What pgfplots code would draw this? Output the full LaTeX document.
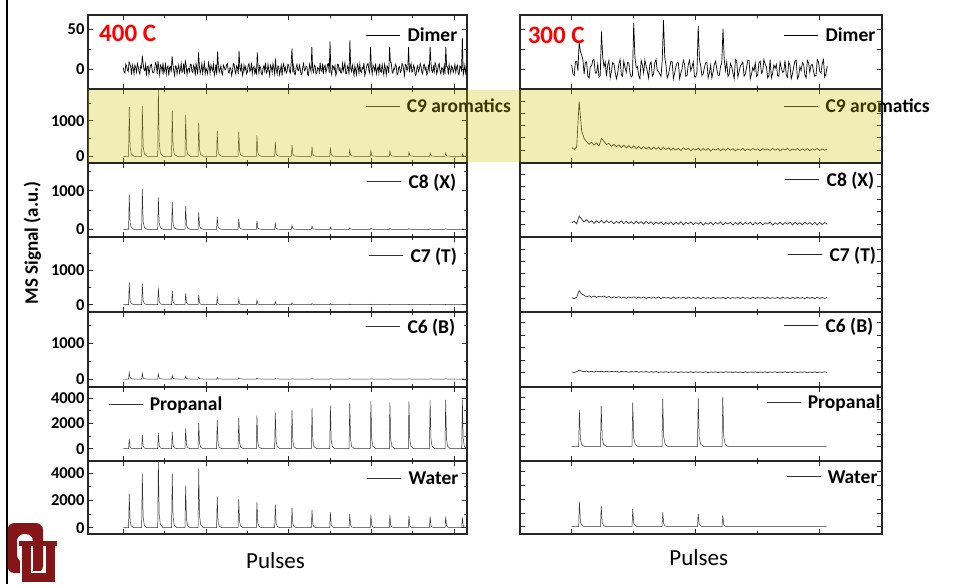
\documentclass[border=0pt]{standalone}
\usepackage{fontspec}
\setmainfont{Carlito}
\usepackage{pgfplots}
\usepackage{pgfplotstable}
\pgfplotsset{compat=1.18}

\definecolor{ou}{HTML}{841617}
\definecolor{hl}{rgb}{0.8,0.754,0}

\pgfplotsset{
  panel/.style={
    scale only axis, clip=true,
    axis line style={line width=1.2pt, black!85},
    every tick/.style={line width=0.9pt, black!85},
    major tick length=5pt, minor tick length=3pt,
    tick align=inside,
    xticklabels={},
    tick label style={font=\fontsize{16.5}{16.5}\selectfont\bfseries},
    /pgf/number format/assume math mode=true,
    /pgf/number format/1000 sep={},
    legend style={draw=none, fill=none, anchor=west, inner sep=0pt,
      font=\fontsize{19.5}{19.5}\selectfont\bfseries,
      nodes={inner sep=0pt, text depth=0pt}, column sep=7pt},
    legend image code/.code={\draw[##1, line width=0.5pt] (0pt,0pt) -- (34pt,0pt);},
  },
  L/.style={panel, width=379pt, xmin=-213.4, xmax=2078,
    xtick={0,500,1000,1500,2000}, minor xtick={250,750,1250,1750}},
  R/.style={panel, width=362pt, xmin=-208.5, xmax=1251,
    xtick={0,500,1000}, minor xtick={250,750}, yticklabels={}},
  tr/.style={black!80, line width=0.5pt},
  trn/.style={black!85, line width=0.65pt},
}

\pgfplotstableread{
x c9 c8 c7 c6 pr wa
0 0 0 0 0 0 0
32 0 0 0 0 0 0
36 1387 900 650 183 737 2494
41 277 180 130 37 147 499
48 69 45 33 9 37 125
64 0 0 0 0 0 0
111 0 0 0 0 0 0
115 1425 1043 612 163 1079 3975
120 285 209 122 33 216 795
127 71 52 31 8 54 199
143 0 0 0 0 0 0
208 0 0 0 0 0 0
212 1950 828 495 144 1237 4950
217 390 166 99 29 247 990
224 98 41 25 7 62 248
240 0 0 0 0 0 0
292 0 0 0 0 0 0
296 1292 707 398 96 1342 3975
301 258 141 80 19 268 795
308 65 35 20 5 67 199
324 0 0 0 0 0 0
373 0 0 0 0 0 0
377 1170 603 330 77 1605 3086
382 234 121 66 15 321 617
389 59 30 17 4 80 154
405 0 0 0 0 0 0
452 0 0 0 0 0 0
456 943 440 282 58 2053 4321
461 189 88 56 12 411 864
468 47 22 14 3 103 216
484 0 0 0 0 0 0
564 0 0 0 0 0 0
568 717 328 214 38 2263 2247
573 143 66 43 8 453 449
580 36 16 11 2 113 112
596 0 0 0 0 0 0
694 0 0 0 0 0 0
698 689 267 165 29 2447 2074
703 138 53 33 6 489 415
710 34 13 8 1 122 104
726 0 0 0 0 0 0
804 0 0 0 0 0 0
808 594 224 136 20 2632 1901
813 119 45 27 4 526 380
820 30 11 7 1 132 95
836 0 0 0 0 0 0
915 0 0 0 0 0 0
919 406 155 78 15 2868 1704
924 81 31 16 3 574 341
931 20 8 4 1 143 85
947 0 0 0 0 0 0
1016 0 0 0 0 0 0
1020 311 103 58 10 3053 1457
1025 62 21 12 2 611 291
1032 16 5 3 0 153 73
1048 0 0 0 0 0 0
1137 0 0 0 0 0 0
1141 274 78 39 10 3211 1309
1146 55 16 8 2 642 262
1153 14 4 2 0 161 65
1169 0 0 0 0 0 0
1248 0 0 0 0 0 0
1252 217 52 29 8 3421 1136
1257 43 10 6 2 684 227
1264 11 3 1 0 171 57
1280 0 0 0 0 0 0
1365 0 0 0 0 0 0
1369 179 35 19 8 3605 1012
1374 36 7 4 2 721 202
1381 9 2 1 0 180 51
1397 0 0 0 0 0 0
1493 0 0 0 0 0 0
1497 151 30 15 6 3789 963
1502 30 6 3 1 758 193
1509 8 2 1 0 189 48
1525 0 0 0 0 0 0
1608 0 0 0 0 0 0
1612 151 25 12 6 3684 938
1617 30 5 2 1 737 188
1624 8 1 1 0 184 47
1640 0 0 0 0 0 0
1723 0 0 0 0 0 0
1727 113 20 10 5 3763 864
1732 23 4 2 1 753 173
1739 6 1 0 0 188 43
1755 0 0 0 0 0 0
1851 0 0 0 0 0 0
1855 94 15 10 5 3868 840
1860 19 3 2 1 774 168
1867 5 1 0 0 193 42
1883 0 0 0 0 0 0
1945 0 0 0 0 0 0
1949 94 15 8 5 3868 815
1954 19 3 2 1 774 163
1961 5 1 0 0 193 41
1977 0 0 0 0 0 0
2046 0 0 0 0 0 0
2050 66 10 8 5 3895 765
2055 13 2 2 1 779 153
2062 3 1 0 0 195 38
2078 0 0 0 0 0 0
2085 0 0 0 0 0 0
}\Ltab

\pgfplotstableread{
x c9 c8 c7 c6
0 20 12 8 6
10 5 25 0 2
20 25 5 12 9
30 400 66 65 20
40 160 42 38 14
50 95 20 28 8
60 70 38 15 14
70 48 15 24 6
80 66 30 12 12
90 40 8 22 5
100 58 28 10 13
110 35 12 20 7
120 95 32 14 12
130 72 10 22 6
140 45 30 9 13
150 55 14 18 5
160 30 26 6 11
170 48 5 16 7
180 28 24 8 12
190 42 9 17 4
200 22 28 5 11
210 40 6 15 6
220 18 25 4 10
230 36 8 14 3
240 15 22 6 10
250 34 4 16 6
260 12 26 3 11
270 30 7 14 4
280 10 22 5 9
290 28 3 15 5
300 8 24 2 10
310 25 6 12 3
320 5 21 4 9
330 24 -2 13 4
340 6 18 3 10
350 22 4 14 2
360 2 20 1 8
370 20 -3 12 3
380 4 16 5 9
390 18 2 11 2
400 -2 20 0 8
410 16 -4 13 3
420 0 18 2 9
430 14 0 11 1
440 -4 22 4 8
450 18 -5 12 3
460 2 16 1 7
470 15 3 13 2
480 -6 20 3 9
490 12 -3 10 1
500 0 15 2 8
510 16 2 12 3
520 -5 19 0 7
530 12 -6 11 2
540 -2 14 3 8
550 14 1 10 1
560 -8 18 1 7
570 10 -4 12 3
580 0 16 2 8
590 13 2 9 1
600 -6 20 4 7
610 11 -5 11 2
620 -3 14 0 8
630 15 3 12 3
640 -1 17 2 7
650 12 -6 10 0
660 -7 15 4 8
670 10 0 11 2
680 -2 19 1 7
690 14 -3 12 1
700 -5 16 3 8
710 9 2 9 2
720 -3 18 0 7
730 13 -5 13 3
740 0 15 2 8
750 11 1 10 0
760 -6 17 4 7
770 12 -4 11 2
780 -1 14 1 8
790 10 3 12 1
800 -4 20 2 7
810 15 -6 9 3
820 -2 13 3 8
830 12 0 11 1
840 -7 18 0 7
850 11 -3 12 2
860 0 15 3 8
870 14 2 10 0
880 -5 19 1 7
890 9 -5 12 2
900 -1 16 2 8
910 13 0 11 1
920 -4 14 4 7
930 10 -4 10 3
940 -3 18 1 8
950 12 1 12 0
960 -6 15 3 7
970 11 -2 11 2
980 0 17 0 8
990 13 -5 12 1
1000 -4 16 2 7
1010 10 -1 10 3
1020 -2 14 3 8
1030 9 2 11 1
}\Rtab

\begin{document}
\begin{tikzpicture}[x=1pt,y=1pt]
\path[use as bounding box] (0,0) rectangle (959,-584);

% ================= LEFT (400 C) =================
\begin{axis}[L, at={(88pt,-15pt)}, anchor=north west, height=74pt,
  ymin=-25, ymax=68, ytick={0,50}, minor ytick={-25,25},
  legend style={at={(0.733,0.73)}}]
\addplot[black, line width=0.7pt] coordinates {
(0,2)(5,-4)(10,-5)(15,6)(20,4)(25,-1)(30,-3)(35,9)(40,6)(45,3)(50,-7)(55,5)(60,1)(65,-6)(70,5)(75,2)(80,-4)(85,7)(90,3)(95,-3)
(100,-6)(105,4)(110,2)(115,17)(120,7)(125,-1)(130,-2)(135,6)(140,-8)(145,3)(150,4)(155,-7)(160,0)(165,5)(170,6)(175,-2)(180,-5)(185,-4)(190,1)(195,8)
(200,5)(205,-6)(210,10)(215,1)(220,-7)(225,5)(230,3)(235,-3)(240,8)(245,-5)(250,-1)(255,6)(260,-6)(265,2)(270,4)(275,-8)(280,2)(285,3)(290,-4)(295,16)
(300,6)(305,-2)(310,-8)(315,4)(320,3)(325,-6)(330,1)(335,5)(340,-5)(345,-1)(350,7)(355,-4)(360,-2)(365,7)(370,-6)(375,10)(380,5)(385,-7)(390,0)(395,1)
(400,-3)(405,6)(410,6)(415,-3)(420,-4)(425,5)(430,2)(435,-8)(440,7)(445,0)(450,-7)(455,21)(460,4)(465,-5)(470,-1)(475,7)(480,-5)(485,2)(490,8)(495,-6)
(500,1)(505,-2)(510,-6)(515,8)(520,3)(525,-5)(530,5)(535,1)(540,-2)(545,6)(550,-8)(555,-3)(560,6)(565,-7)(570,22)(575,4)(580,-4)(585,0)(590,4)(595,-5)
(600,-7)(605,5)(610,3)(615,-1)(620,0)(625,6)(630,7)(635,-4)(640,-5)(645,2)(650,1)(655,-8)(660,-3)(665,7)(670,6)(675,-2)(680,-6)(685,4)(690,2)(695,-6)
(700,23)(705,1)(710,-2)(715,7)(720,-8)(725,-4)(730,5)(735,-1)(740,3)(745,-6)(750,-4)(755,5)(760,7)(765,-3)(770,-1)(775,8)(780,-6)(785,2)(790,3)(795,-5)
(800,0)(805,-7)(810,21)(815,3)(820,-5)(825,4)(830,2)(835,-6)(840,-7)(845,1)(850,4)(855,-2)(860,8)(865,-5)(870,-3)(875,6)(880,-2)(885,-8)(890,5)(895,2)
(900,-4)(905,7)(910,1)(915,-6)(920,13)(925,-1)(930,-6)(935,4)(940,3)(945,-7)(950,-1)(955,5)(960,-8)(965,3)(970,7)(975,-2)(980,2)(985,-5)(990,-3)(995,6)
(1000,5)(1005,-3)(1010,-5)(1015,8)(1020,26)(1025,-4)(1030,4)(1035,-6)(1040,-7)(1045,2)(1050,6)(1055,-1)(1060,-2)(1065,5)(1070,0)(1075,-7)(1080,-6)(1085,3)(1090,7)(1095,-2)
(1100,-1)(1105,4)(1110,3)(1115,-7)(1120,-8)(1125,6)(1130,2)(1135,-3)(1140,28)(1145,-1)(1150,-4)(1155,5)(1160,4)(1165,-6)(1170,-5)(1175,2)(1180,1)(1185,-4)(1190,8)(1195,-2)
(1200,-3)(1205,7)(1210,-6)(1215,3)(1220,5)(1225,-4)(1230,0)(1235,6)(1240,7)(1245,-5)(1250,35)(1255,-3)(1260,-7)(1265,4)(1270,3)(1275,-1)(1280,4)(1285,-8)(1290,-4)(1295,6)
(1300,6)(1305,-2)(1310,1)(1315,-5)(1320,-5)(1325,7)(1330,-2)(1335,3)(1340,8)(1345,-6)(1350,-6)(1355,4)(1360,2)(1365,-7)(1370,36)(1375,1)(1380,-3)(1385,5)(1390,-1)(1395,-8)
(1400,4)(1405,-1)(1410,-7)(1415,6)(1420,3)(1425,-5)(1430,6)(1435,-3)(1440,-4)(1445,2)(1450,0)(1455,8)(1460,-8)(1465,-4)(1470,2)(1475,6)(1480,7)(1485,-2)(1490,-5)(1495,28)
(1500,1)(1505,-6)(1510,5)(1515,2)(1520,-2)(1525,7)(1530,-6)(1535,-1)(1540,3)(1545,-5)(1550,7)(1555,-3)(1560,-4)(1565,6)(1570,-1)(1575,-7)(1580,6)(1585,1)(1590,-7)(1595,4)
(1600,2)(1605,-5)(1610,28)(1615,8)(1620,8)(1625,-3)(1630,-5)(1635,1)(1640,0)(1645,6)(1650,4)(1655,-7)(1660,-6)(1665,2)(1670,3)(1675,-4)(1680,-2)(1685,7)(1690,6)(1695,-1)
(1700,-8)(1705,6)(1710,5)(1715,-2)(1720,1)(1725,28)(1730,-4)(1735,3)(1740,7)(1745,-4)(1750,-3)(1755,5)(1760,2)(1765,-8)(1770,-7)(1775,1)(1780,4)(1785,-3)(1790,0)(1795,7)
(1800,3)(1805,-4)(1810,-6)(1815,5)(1820,6)(1825,-1)(1830,2)(1835,-7)(1840,-5)(1845,4)(1850,-1)(1855,28)(1860,8)(1865,-2)(1870,-4)(1875,3)(1880,-3)(1885,8)(1890,5)(1895,-6)
(1900,-2)(1905,5)(1910,7)(1915,-3)(1920,-6)(1925,2)(1930,1)(1935,-5)(1940,4)(1945,-6)(1950,28)(1955,3)(1960,3)(1965,-7)(1970,6)(1975,0)(1980,-5)(1985,4)(1990,2)(1995,-4)
(2000,0)(2005,6)(2010,-4)(2015,2)(2020,5)(2025,-6)(2030,-7)(2035,4)(2040,3)(2045,-3)(2050,39)(2055,-7)(2060,-2)(2065,5)(2070,-5)(2075,1)(2080,7)(2085,-5)(2090,1)
};
\addlegendentry{Dimer}
\node[anchor=west, text=red, font=\fontsize{25}{25}\selectfont\bfseries, inner sep=0pt, text depth=0pt] at (rel axis cs:0.029,0.75) {400 C};
\end{axis}

\begin{axis}[L, at={(88pt,-89pt)}, anchor=north west, height=74pt,
  ymin=-190, ymax=1900, ytick={0,1000}, minor ytick={500,1500},
  legend style={at={(0.731,0.77)}}]
\addplot[tr] table[x=x,y=c9]{\Ltab};
\addlegendentry{C9 aromatics}
\end{axis}

\begin{axis}[L, at={(88pt,-163pt)}, anchor=north west, height=74pt,
  ymin=-199, ymax=1717, ytick={0,1000}, minor ytick={500,1500},
  legend style={at={(0.736,0.757)}}]
\addplot[tr] table[x=x,y=c8]{\Ltab};
\addlegendentry{C8 (X)}
\end{axis}

\begin{axis}[L, at={(88pt,-237pt)}, anchor=north west, height=75pt,
  ymin=-212, ymax=1968, ytick={0,1000}, minor ytick={500,1500},
  legend style={at={(0.741,0.76)}}]
\addplot[tr] table[x=x,y=c7]{\Ltab};
\addlegendentry{C7 (T)}
\end{axis}

\begin{axis}[L, at={(88pt,-312pt)}, anchor=north west, height=75pt,
  ymin=-224, ymax=1877, ytick={0,1000}, minor ytick={500,1500},
  legend style={at={(0.733,0.813)}}]
\addplot[tr] table[x=x,y=c6]{\Ltab};
\addlegendentry{C6 (B)}
\end{axis}

\begin{axis}[L, at={(88pt,-387pt)}, anchor=north west, height=74pt,
  ymin=-976, ymax=4897, ytick={0,2000,4000}, minor ytick={1000,3000},
  legend style={at={(0.053,0.77)}}]
\addplot[tr] table[x=x,y=pr]{\Ltab};
\addlegendentry{Propanal}
\end{axis}

\begin{axis}[L, at={(88pt,-461pt)}, anchor=north west, height=73pt,
  ymin=-463, ymax=4904, ytick={0,2000,4000}, minor ytick={1000,3000},
  legend style={at={(0.736,0.767)}}]
\addplot[tr] table[x=x,y=wa]{\Ltab};
\addlegendentry{Water}
\end{axis}

% ================= RIGHT (300 C) =================
\begin{axis}[R, at={(520pt,-15pt)}, anchor=north west, height=74pt,
  ymin=-25, ymax=68, ytick={0,25,50},
  legend style={at={(0.729,0.73)}}]
\addplot[black, line width=0.7pt] coordinates {
(0,5)(5,-6)(10,-8)(15,9)(20,10)(25,-2)(30,34)(35,22)(40,18)(45,12)(50,-6)(55,8)(60,9)(65,-9)(70,-11)(75,3)(80,4)(85,11)(90,12)(95,-5)
(100,-5)(105,6)(110,-10)(115,-8)(120,47)(125,15)(130,3)(135,9)(140,-9)(145,5)(150,11)(155,-11)(160,-3)(165,8)(170,7)(175,-3)(180,-12)(185,-6)(190,6)(195,12)
(200,-7)(205,-9)(210,10)(215,2)(220,-4)(225,8)(230,8)(235,-5)(240,-10)(245,-8)(250,58)(255,14)(260,2)(265,3)(270,-8)(275,-12)(280,11)(285,5)(290,-5)(295,11)
(300,4)(305,-3)(310,-11)(315,6)(320,9)(325,-9)(330,-6)(335,8)(340,12)(345,-2)(350,-3)(355,-6)(360,-9)(365,11)(370,62)(375,15)(380,5)(385,-11)(390,-7)(395,2)
(400,10)(405,9)(410,-12)(415,-5)(420,3)(425,8)(430,8)(435,-12)(440,-5)(445,0)(450,11)(455,6)(460,-9)(465,-8)(470,6)(475,11)(480,-2)(485,3)(490,9)(495,-9)
(500,-10)(505,-3)(510,54)(515,12)(520,4)(525,-8)(530,-6)(535,2)(540,8)(545,9)(550,-11)(555,-5)(560,5)(565,-11)(570,-4)(575,6)(580,10)(585,0)(590,-8)(595,-8)
(600,3)(605,8)(610,51)(615,12)(620,-2)(625,9)(630,-9)(635,-6)(640,7)(645,3)(650,-5)(655,-12)(660,12)(665,11)(670,-10)(675,-3)(680,4)(685,6)(690,9)(695,-9)
(700,-6)(705,2)(710,11)(715,11)(720,-12)(725,-6)(730,2)(735,-2)(740,8)(745,-9)(750,-7)(755,8)(760,10)(765,-5)(770,-3)(775,12)(780,6)(785,3)(790,-11)(795,-8)
(800,12)(805,-11)(810,-5)(815,5)(820,1)(825,6)(830,-8)(835,-9)(840,9)(845,2)(850,-4)(855,-3)(860,11)(865,-8)(870,-10)(875,9)(880,5)(885,-12)(890,-6)(895,3)
(900,10)(905,11)(910,-12)(915,-9)(920,3)(925,-2)(930,8)(935,6)(940,-7)(945,-11)(950,11)(955,8)(960,-4)(965,5)(970,6)(975,-3)(980,-9)(985,-8)(990,12)(995,9)
(1000,-3)(1005,-5)(1010,7)(1015,12)(1020,-10)(1025,-6)(1030,4)
};
\addlegendentry{Dimer}
\node[anchor=west, text=red, font=\fontsize{25}{25}\selectfont\bfseries, inner sep=0pt, text depth=0pt] at (rel axis cs:0.021,0.73) {300 C};
\end{axis}

\begin{axis}[R, at={(520pt,-89pt)}, anchor=north west, height=74pt,
  ymin=-107, ymax=504, ytick={0,100,200,300,400},
  legend style={at={(0.729,0.77)}}]
\addplot[trn] table[x=x,y=c9]{\Rtab};
\addlegendentry{C9 aromatics}
\end{axis}

\begin{axis}[R, at={(520pt,-163pt)}, anchor=north west, height=74pt,
  ymin=-100, ymax=487, ytick={0,100,200,300,400},
  legend style={at={(0.732,0.78)}}]
\addplot[trn] table[x=x,y=c8]{\Rtab};
\addlegendentry{C8 (X)}
\end{axis}

\begin{axis}[R, at={(520pt,-237pt)}, anchor=north west, height=75pt,
  ymin=-107, ymax=498, ytick={0,100,200,300,400},
  legend style={at={(0.740,0.773)}}]
\addplot[trn] table[x=x,y=c7]{\Rtab};
\addlegendentry{C7 (T)}
\end{axis}

\begin{axis}[R, at={(520pt,-312pt)}, anchor=north west, height=75pt,
  ymin=-114, ymax=486, ytick={0,100,200,300,400},
  legend style={at={(0.729,0.827)}}]
\addplot[trn] table[x=x,y=c6]{\Rtab};
\addlegendentry{C6 (B)}
\end{axis}

\begin{axis}[R, at={(520pt,-387pt)}, anchor=north west, height=74pt,
  ymin=-116, ymax=483, ytick={0,100,200,300,400},
  legend style={at={(0.680,0.797)}}]
\addplot[tr] coordinates {
(0,0)(28,0)(31,297)(35,59)(41,15)(53,0)(116,0)(119,332)(123,66)(129,17)(141,0)
(243,0)(246,357)(250,71)(256,18)(268,0)(364,0)(367,386)(371,77)(377,19)(389,0)
(507,0)(510,395)(514,79)(520,20)(532,0)(606,0)(609,405)(613,81)(619,20)(631,0)(1028,0)};
\addlegendentry{Propanal}
\end{axis}

\begin{axis}[R, at={(520pt,-461pt)}, anchor=north west, height=73pt,
  ymin=-53, ymax=478, ytick={0,100,200,300,400},
  legend style={at={(0.735,0.785)}}]
\addplot[tr] coordinates {
(0,0)(28,0)(31,182)(35,36)(41,9)(53,0)(116,0)(119,150)(123,30)(129,8)(141,0)
(243,0)(246,128)(250,26)(256,6)(268,0)(364,0)(367,104)(371,21)(377,5)(389,0)
(507,0)(510,95)(514,19)(520,5)(532,0)(606,0)(609,82)(613,16)(619,4)(631,0)(1028,0)};
\addlegendentry{Water}
\end{axis}

% highlight band
\fill[hl, fill opacity=0.29] (88,-90) rectangle (880,-162);

% labels
\node[rotate=90, font=\fontsize{19}{19}\selectfont\bfseries] at (32.5,-243) {MS Signal (a.u.)};
\node[font=\fontsize{23}{23}\selectfont] at (275.5,-561) {Pulses};
\node[font=\fontsize{23}{23}\selectfont] at (698.7,-558) {Pulses};

% slide border and logo
\draw[line width=1.8pt, black] (7.3,0) -- (7.3,-584);
\fill[ou, even odd rule, rounded corners=7pt] (7.5,-523) rectangle (43,-573) (17,-534) rectangle (33,-562);
\draw[white, line width=13pt] (26,-542) -- (26,-577) -- (50,-577) -- (50,-542);
\draw[ou, line width=9pt] (26,-542) -- (26,-577) -- (50,-577) -- (50,-542);
\fill[ou] (19,-541) rectangle (33,-546);
\fill[ou] (43,-541) rectangle (57,-546);
\end{tikzpicture}
\end{document}
